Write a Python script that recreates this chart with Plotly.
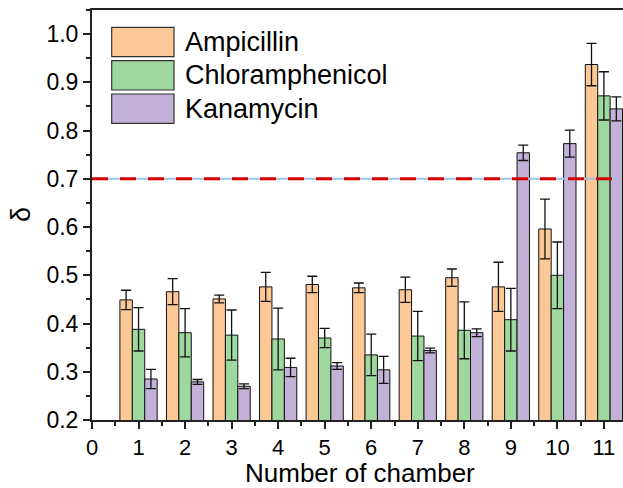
import plotly.graph_objects as go

chambers = [1, 2, 3, 4, 5, 6, 7, 8, 9, 10, 11]
series_names = ["Ampicillin", "Chloramphenicol", "Kanamycin"]
ampicillin = [0.449, 0.466, 0.451, 0.476, 0.481, 0.474, 0.470, 0.495, 0.476, 0.596, 0.937]
ampicillin_err = [0.020, 0.027, 0.008, 0.030, 0.017, 0.010, 0.026, 0.018, 0.051, 0.062, 0.044]
chloramphenicol = [0.388, 0.381, 0.376, 0.368, 0.370, 0.335, 0.374, 0.386, 0.408, 0.500, 0.872]
chloramphenicol_err = [0.045, 0.050, 0.052, 0.064, 0.020, 0.043, 0.051, 0.059, 0.065, 0.069, 0.050]
kanamycin = [0.285, 0.279, 0.270, 0.309, 0.312, 0.304, 0.344, 0.381, 0.754, 0.773, 0.845]
kanamycin_err = [0.020, 0.005, 0.005, 0.019, 0.007, 0.028, 0.005, 0.008, 0.016, 0.028, 0.025]
threshold = 0.7
threshold_x = [0, 11.28]
x_ticks = list(range(0, 12))
y_ticks = [0.2, 0.3, 0.4, 0.5, 0.6, 0.7, 0.8, 0.9, 1.0]
x_title = "Number of chamber"
y_title = "δ"

colors = ["#FCC896", "#9FD89E", "#C2B2D7"]
FONT = "Liberation Sans, Arial, sans-serif"

W, H = 623, 488
ML, MR, MT, MB = 92, 0, 10, 68
PW, PH = W - ML - MR, H - MT - MB

def px_x(p):
    return (p - ML) / PW

def px_y(p):
    return (H - MB - p) / PH

fig = go.Figure()
all_vals = [ampicillin, chloramphenicol, kanamycin]
all_errs = [ampicillin_err, chloramphenicol_err, kanamycin_err]
for name, vals, errs, c in zip(series_names, all_vals, all_errs, colors):
    fig.add_trace(go.Bar(
        x=chambers, y=vals, name=name,
        marker=dict(color=c, line=dict(color="#111111", width=1)),
        error_y=dict(type="data", array=errs, visible=True, color="#111111", thickness=1.3, width=5),
        showlegend=False,
    ))

fig.add_trace(go.Scatter(x=threshold_x, y=[threshold, threshold], mode="lines",
                         line=dict(color="#9DC6E6", width=2), showlegend=False, hoverinfo="skip"))
fig.add_trace(go.Scatter(x=threshold_x, y=[threshold, threshold], mode="lines",
                         line=dict(color="#D40000", width=3, dash="16px,12px"), showlegend=False, hoverinfo="skip"))

# manual legend
shapes = []
annotations = []
box_tops = [27.3, 60.7, 94.0]
for name, c, top in zip(series_names, colors, box_tops):
    shapes.append(dict(type="rect", xref="paper", yref="paper",
                       x0=px_x(111.7), x1=px_x(174), y0=px_y(top + 29.3), y1=px_y(top),
                       fillcolor=c, line=dict(color="#333333", width=1.2)))
    annotations.append(dict(xref="paper", yref="paper", x=px_x(183), y=px_y(top + 14.6),
                            xanchor="left", yanchor="middle", text=name, showarrow=False,
                            font=dict(family=FONT, size=27, color="#000000")))

# axis titles as positioned text
annotations.append(dict(xref="paper", yref="paper", x=px_x(360), y=px_y(473),
                        xanchor="center", yanchor="middle", text=x_title, showarrow=False,
                        font=dict(family=FONT, size=26, color="#000000")))
annotations.append(dict(xref="paper", yref="paper", x=px_x(21), y=px_y(215),
                        xanchor="center", yanchor="middle", text=y_title, showarrow=False,
                        textangle=-90, font=dict(family=FONT, size=27, color="#000000")))

fig.update_layout(
    width=W, height=H,
    margin=dict(l=ML, r=MR, t=MT, b=MB),
    paper_bgcolor="white", plot_bgcolor="white",
    barmode="group", bargap=0.2, bargroupgap=0,
    shapes=shapes, annotations=annotations,
    font=dict(family=FONT, color="#000000"),
    xaxis=dict(
        range=[0, 11.41], tickvals=x_ticks, ticktext=[str(t) for t in x_ticks],
        ticks="outside", ticklen=7, tickwidth=1.5, tickcolor="#222222",
        showline=True, linecolor="#222222", linewidth=2, mirror=True,
        showgrid=False, zeroline=False,
        tickfont=dict(family=FONT, size=22),
        minor=dict(dtick=0.5, tick0=0, ticks="outside", ticklen=4, tickwidth=1.5, tickcolor="#222222", showgrid=False),
    ),
    yaxis=dict(
        range=[0.2, 1.05], tickvals=y_ticks, ticktext=[f"{t:.1f}" for t in y_ticks],
        ticks="outside", ticklen=7, tickwidth=1.5, tickcolor="#222222",
        showline=True, linecolor="#222222", linewidth=2, mirror=False,
        showgrid=False, zeroline=False,
        tickfont=dict(family=FONT, size=23),
        minor=dict(dtick=0.05, tick0=0.2, ticks="outside", ticklen=4, tickwidth=1.5, tickcolor="#222222", showgrid=False),
    ),
)

fig.write_html("out.html")
